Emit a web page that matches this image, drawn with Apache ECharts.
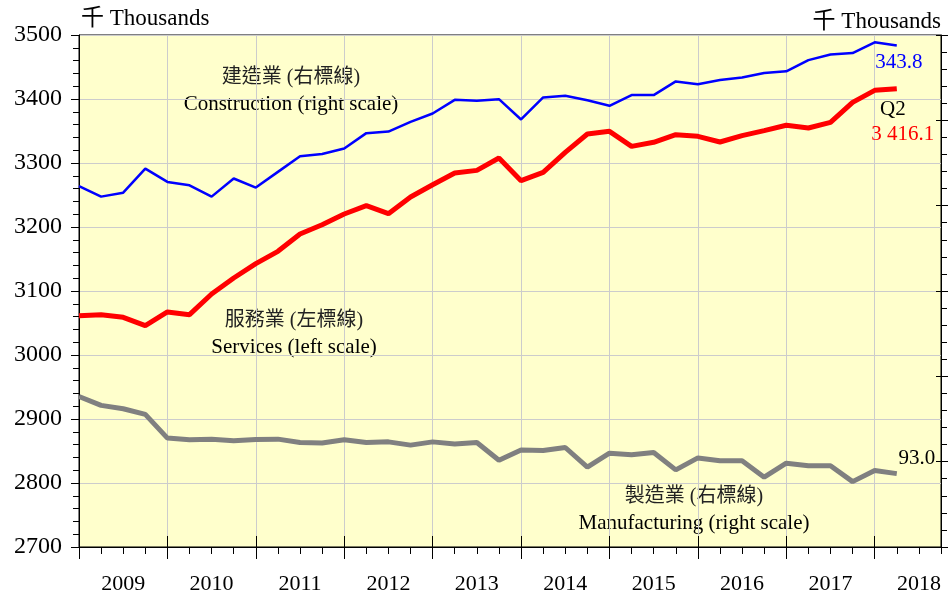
<!DOCTYPE html>
<html>
<head>
<meta charset="utf-8">
<script src="https://cdn.jsdelivr.net/npm/echarts@6/dist/echarts.min.js"></script>
<style>
  html, body { margin: 0; padding: 0; background: #ffffff; }
  #chart { width: 948px; height: 595px; }
</style>
</head>
<body>
<div id="chart"></div>
<script>
// Quarterly employment, 2009 Q1 - 2018 Q2 (thousands)
const years = ['2009', '2010', '2011', '2012', '2013', '2014', '2015', '2016', '2017', '2018'];
const quarters = ['Q1', 'Q2', 'Q3', 'Q4'];

// Services, left scale
const services = [3061.5, 3063.0, 3058.9, 3045.8, 3067.2, 3063.0, 3095.3, 3120.3, 3142.7, 3162.0,
  3189.1, 3203.6, 3220.3, 3233.3, 3220.8, 3246.9, 3266.1, 3284.4, 3288.5, 3307.8,
  3272.4, 3285.4, 3316.7, 3345.3, 3349.5, 3326.0, 3332.3, 3344.3, 3341.7, 3332.8,
  3342.7, 3350.5, 3358.9, 3354.7, 3363.5, 3394.8, 3413.5, 3416.1];

// Construction, right scale
const construction = [261.5, 255.3, 257.6, 271.7, 263.9, 261.9, 255.3, 265.9, 260.6, 269.8,
  279.0, 280.3, 283.5, 292.5, 293.4, 299.1, 304.0, 312.0, 311.5, 312.4,
  300.5, 313.4, 314.4, 311.8, 308.5, 314.8, 314.8, 322.8, 321.2, 323.6,
  325.1, 327.7, 328.7, 335.3, 338.6, 339.4, 345.7, 343.8];

// Manufacturing, right scale
const manufacturing = [138.2, 133.0, 131.0, 127.7, 113.8, 112.8, 113.2, 112.2, 113.0, 113.2,
  111.2, 110.9, 112.8, 111.2, 111.6, 109.7, 111.6, 110.4, 111.2, 100.8,
  106.9, 106.5, 108.3, 96.8, 105.0, 104.0, 105.4, 95.2, 102.2, 100.5,
  100.5, 90.9, 99.1, 97.6, 97.6, 88.3, 94.8, 93.0];

const leftTicks = { min: 2700, max: 3500, step: 100 };
const rightTicks = { min: 50, max: 350, step: 50 };

// every quarter of every year on the time axis
const categories = [];
years.forEach(y => quarters.forEach(q => categories.push(y + ' ' + q)));

const SERIF = '"Liberation Serif", "Times New Roman", "Noto Sans CJK TC", serif';

function spaced(v) {
  const parts = v.toFixed(1).split('.');
  return parts[0].replace(/\B(?=(\d{3})+(?!\d))/g, ' ') + '.' + parts[1];
}

// the last value of a series carries its own label
function withEndLabel(arr, label) {
  return arr.map((v, i) => i === arr.length - 1 ? { value: v, label: Object.assign({ show: true }, label) } : v);
}

const chart = echarts.init(document.getElementById('chart'), null, { renderer: 'canvas' });

const baseX = {
  type: 'category',
  data: categories,
  boundaryGap: false,
  position: 'bottom',
  gridIndex: 0
};

const option = {
  animation: false,
  backgroundColor: '#ffffff',
  grid: {
    left: 79, right: 7, top: 35, bottom: 48,
    show: true, backgroundColor: '#FFFFCC', borderColor: '#000000', borderWidth: 1
  },
  xAxis: [
    Object.assign({}, baseX, {
      axisLine: { show: true, lineStyle: { color: '#000', width: 1 } },
      axisTick: { show: true, interval: 0, length: 7, lineStyle: { color: '#000', width: 1 } },
      axisLabel: {
        show: true, interval: (i) => i % 4 === 2, margin: 26,
        formatter: (v) => v.split(' ')[0],
        fontFamily: SERIF, fontSize: 22, color: '#000'
      },
      splitLine: { show: true, interval: (i) => i % 4 === 0 && i > 0, lineStyle: { color: '#CCCCCC', width: 1 } }
    }),
    Object.assign({}, baseX, {
      axisLine: { show: false },
      axisTick: { show: true, interval: (i) => i % 4 === 0, length: 12, lineStyle: { color: '#000', width: 1 } },
      axisLabel: { show: false },
      splitLine: { show: false }
    }),
    Object.assign({}, baseX, {
      axisLine: { show: false },
      axisTick: { show: true, inside: true, interval: (i) => i % 4 === 0, length: 11, lineStyle: { color: '#000', width: 1 } },
      axisLabel: { show: false },
      splitLine: { show: false }
    })
  ],
  yAxis: [
    {
      type: 'value', position: 'left',
      min: leftTicks.min, max: leftTicks.max, interval: leftTicks.step,
      axisLine: { show: true, lineStyle: { color: '#000', width: 1 } },
      axisTick: { show: true, length: 8, lineStyle: { color: '#000' } },
      minorTick: { show: true, splitNumber: 5, length: 6, lineStyle: { color: '#000' } },
      axisLabel: { margin: 17, fontFamily: SERIF, fontSize: 24, color: '#000', formatter: (v) => String(v) },
      splitLine: { show: true, lineStyle: { color: '#CCCCCC', width: 1 } }
    },
    {
      type: 'value', position: 'right',
      min: rightTicks.min, max: rightTicks.max, interval: rightTicks.step,
      axisLine: { show: true, lineStyle: { color: '#000', width: 1 } },
      axisTick: { show: true, length: 7, lineStyle: { color: '#000' } },
      minorTick: { show: true, splitNumber: 5, length: 6, lineStyle: { color: '#000' } },
      axisLabel: { show: false },
      splitLine: { show: false }
    },
    {
      type: 'value', position: 'right',
      min: rightTicks.min, max: rightTicks.max, interval: rightTicks.step,
      axisLine: { show: false },
      axisTick: { show: true, inside: true, length: 5, lineStyle: { color: '#000' } },
      axisLabel: { show: false },
      splitLine: { show: false }
    }
  ],
  series: [
    {
      name: '製造業', type: 'line', xAxisIndex: 0, yAxisIndex: 1,
      data: withEndLabel(manufacturing, {
        position: 'inside', offset: [20, -15],
        formatter: (p) => p.value.toFixed(1),
        fontFamily: SERIF, fontSize: 21, color: '#000'
      }),
      symbol: 'circle', symbolSize: 0, showSymbol: true,
      lineStyle: { color: '#808080', width: 5 },
      itemStyle: { color: '#808080' }, z: 3
    },
    {
      name: '服務業', type: 'line', xAxisIndex: 0, yAxisIndex: 0,
      data: withEndLabel(services, {
        position: 'inside', offset: [6, 33],
        formatter: (p) => '{q|Q2}\n{v|' + spaced(p.value) + '}',
        rich: {
          q: { fontFamily: SERIF, fontSize: 21, color: '#000', lineHeight: 25, padding: [0, 20, 0, 0] },
          v: { fontFamily: SERIF, fontSize: 21, color: '#FF0000', lineHeight: 25 }
        }
      }),
      symbol: 'circle', symbolSize: 0, showSymbol: true,
      lineStyle: { color: '#FF0000', width: 5 },
      itemStyle: { color: '#FF0000' }, z: 4
    },
    {
      name: '建造業', type: 'line', xAxisIndex: 0, yAxisIndex: 1,
      data: withEndLabel(construction, {
        position: 'inside', offset: [2, 17],
        formatter: (p) => p.value.toFixed(1),
        fontFamily: SERIF, fontSize: 21, color: '#0000FF'
      }),
      symbol: 'circle', symbolSize: 0, showSymbol: true,
      lineStyle: { color: '#0000FF', width: 2.5 },
      itemStyle: { color: '#0000FF' }, z: 5
    }
  ],
  graphic: [
    { type: 'text', x: 81, y: 19, style: { text: '千 Thousands', font: '23px ' + SERIF, fill: '#000', align: 'left', verticalAlign: 'middle' } },
    { type: 'text', x: 941, y: 22, style: { text: '千 Thousands', font: '23px ' + SERIF, fill: '#000', align: 'right', verticalAlign: 'middle' } },
    { type: 'text', x: 291, y: 78, style: { text: '建造業 (右標線)', font: '20px ' + SERIF, fill: '#222', align: 'center', verticalAlign: 'middle' } },
    { type: 'text', x: 291, y: 104, style: { text: 'Construction (right scale)', font: '21px ' + SERIF, fill: '#000', align: 'center', verticalAlign: 'middle' } },
    { type: 'text', x: 294, y: 321, style: { text: '服務業 (左標線)', font: '20px ' + SERIF, fill: '#222', align: 'center', verticalAlign: 'middle' } },
    { type: 'text', x: 294, y: 347, style: { text: 'Services (left scale)', font: '21px ' + SERIF, fill: '#000', align: 'center', verticalAlign: 'middle' } },
    { type: 'text', x: 694, y: 497, style: { text: '製造業 (右標線)', font: '20px ' + SERIF, fill: '#222', align: 'center', verticalAlign: 'middle' } },
    { type: 'text', x: 694, y: 523, style: { text: 'Manufacturing (right scale)', font: '21px ' + SERIF, fill: '#000', align: 'center', verticalAlign: 'middle' } }
  ]
};

chart.setOption(option);
</script>
</body>
</html>
